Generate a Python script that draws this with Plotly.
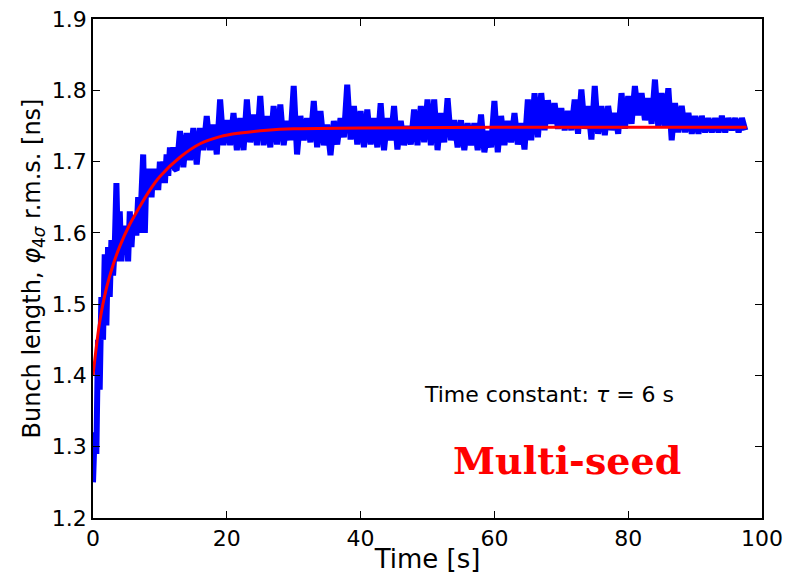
import numpy as np
import plotly.graph_objects as go

# ---- Data ----
# Measured bunch length, first 12.5 s sampled every 0.25 s
t_early = np.arange(0.0, 12.5, 0.25)
bl_early = [1.25, 1.32, 1.29, 1.45, 1.38, 1.51, 1.45, 1.57, 1.47, 1.58,
            1.51, 1.59, 1.54, 1.58, 1.67, 1.56, 1.63, 1.56, 1.61, 1.57,
            1.61, 1.56, 1.63, 1.58, 1.62, 1.60, 1.60, 1.65, 1.60, 1.65,
            1.71, 1.60, 1.69, 1.65, 1.69, 1.65, 1.69, 1.66, 1.69, 1.66,
            1.70, 1.67, 1.70, 1.67, 1.71, 1.68, 1.72, 1.69, 1.72, 1.69]

# Measured bunch length, 12.5 s .. 97.5 s sampled every 0.5 s
t_late = np.arange(12.5, 97.75, 0.5)
bl_late = [1.688,
           1.743, 1.692, 1.740, 1.702, 1.747, 1.696, 1.747, 1.716, 1.764, 1.716,
           1.752, 1.710, 1.787, 1.723, 1.758, 1.723, 1.768, 1.716, 1.761, 1.716,
           1.787, 1.727, 1.766, 1.723, 1.792, 1.723, 1.764, 1.720, 1.778, 1.724,
           1.780, 1.723, 1.757, 1.730, 1.806, 1.710, 1.764, 1.730, 1.761, 1.727,
           1.785, 1.720, 1.771, 1.723, 1.752, 1.709, 1.757, 1.724, 1.761, 1.734,
           1.808, 1.731, 1.778, 1.724, 1.771, 1.720, 1.773, 1.724, 1.761, 1.720,
           1.782, 1.716, 1.761, 1.730, 1.778, 1.717, 1.757, 1.723, 1.750, 1.724,
           1.773, 1.723, 1.778, 1.727, 1.787, 1.723, 1.787, 1.716, 1.768, 1.727,
           1.789, 1.730, 1.758, 1.720, 1.758, 1.716, 1.754, 1.723, 1.754, 1.716,
           1.766, 1.713, 1.743, 1.720, 1.785, 1.713, 1.764, 1.723, 1.757, 1.727,
           1.768, 1.724, 1.754, 1.717, 1.787, 1.730, 1.796, 1.734, 1.796, 1.744,
           1.786, 1.753, 1.782, 1.746, 1.775, 1.744, 1.771, 1.744, 1.787, 1.739,
           1.801, 1.746, 1.778, 1.731, 1.806, 1.739, 1.778, 1.737, 1.778, 1.744,
           1.768, 1.739, 1.796, 1.746, 1.792, 1.753, 1.806, 1.765, 1.796, 1.758,
           1.789, 1.753, 1.815, 1.748, 1.796, 1.748, 1.803, 1.730, 1.782, 1.741,
           1.778, 1.741, 1.768, 1.739, 1.764, 1.739, 1.764, 1.741, 1.761, 1.741,
           1.761, 1.741, 1.764, 1.741, 1.761, 1.744, 1.761, 1.741, 1.761, 1.744]

# Exponential fit curve
t_fit = [0, 0.5, 1, 2, 3, 4, 5.5, 7, 8.5, 10, 13, 16, 19, 22, 26, 30, 40, 60, 80, 97.7]
bl_fit = [1.400, 1.440, 1.475, 1.522, 1.555, 1.581, 1.612, 1.637, 1.660, 1.679,
          1.706, 1.725, 1.735, 1.740, 1.744, 1.746, 1.747, 1.748, 1.748, 1.748]

x_ticks = [0, 20, 40, 60, 80, 100]
y_ticks = [1.2, 1.3, 1.4, 1.5, 1.6, 1.7, 1.8, 1.9]

t_meas = list(t_early) + list(t_late)
bl_meas = bl_early + bl_late

fig = go.Figure()
fig.add_trace(go.Scatter(x=t_meas, y=bl_meas, mode="lines",
                         line=dict(color="#0000FF", width=6), showlegend=False))
fig.add_trace(go.Scatter(x=t_fit, y=bl_fit, mode="lines", line_shape="spline",
                         line=dict(color="#FF0000", width=3), showlegend=False))

axis_common = dict(showline=True, linecolor="black", linewidth=1.5, mirror="ticks",
                   ticks="inside", ticklen=7, tickwidth=1, tickcolor="black",
                   showgrid=False, zeroline=False, automargin=False,
                   ticklabeloverflow="allow",
                   tickfont=dict(family="DejaVu Sans", size=22, color="black"))

fig.update_xaxes(range=[0, 100], tickvals=x_ticks, ticktext=[str(v) for v in x_ticks],
                 title=dict(text="Time [s]", font=dict(family="DejaVu Sans", size=26, color="black"),
                            standoff=3),
                 **axis_common)
fig.update_yaxes(range=[1.2, 1.9], tickvals=y_ticks, ticktext=["%.1f" % v for v in y_ticks],
                 title=dict(text="Bunch length, <i>φ</i><sub>4<i>σ</i></sub> r.m.s. [ns]",
                            font=dict(family="DejaVu Sans", size=24, color="black"),
                            standoff=4),
                 **axis_common)

fig.add_annotation(x=49.2, y=1.373, xref="x", yref="y", xanchor="left", yanchor="middle",
                   text="Time constant: <i>τ</i> = 6 s", showarrow=False,
                   font=dict(family="DejaVu Sans", size=22, color="black"))
fig.add_annotation(x=53.5, y=1.281, xref="x", yref="y", xanchor="left", yanchor="middle",
                   text="<b>Multi-seed</b>", showarrow=False,
                   font=dict(family="DejaVu Serif", size=38, color="#FF0000"))

# page body has an 8 px margin, so the figure is 8 px smaller and margins shifted
fig.update_layout(width=784, height=566, paper_bgcolor="white", plot_bgcolor="white",
                  margin=dict(l=85, r=30, t=11, b=56, autoexpand=False))

fig.write_html("out.html")
